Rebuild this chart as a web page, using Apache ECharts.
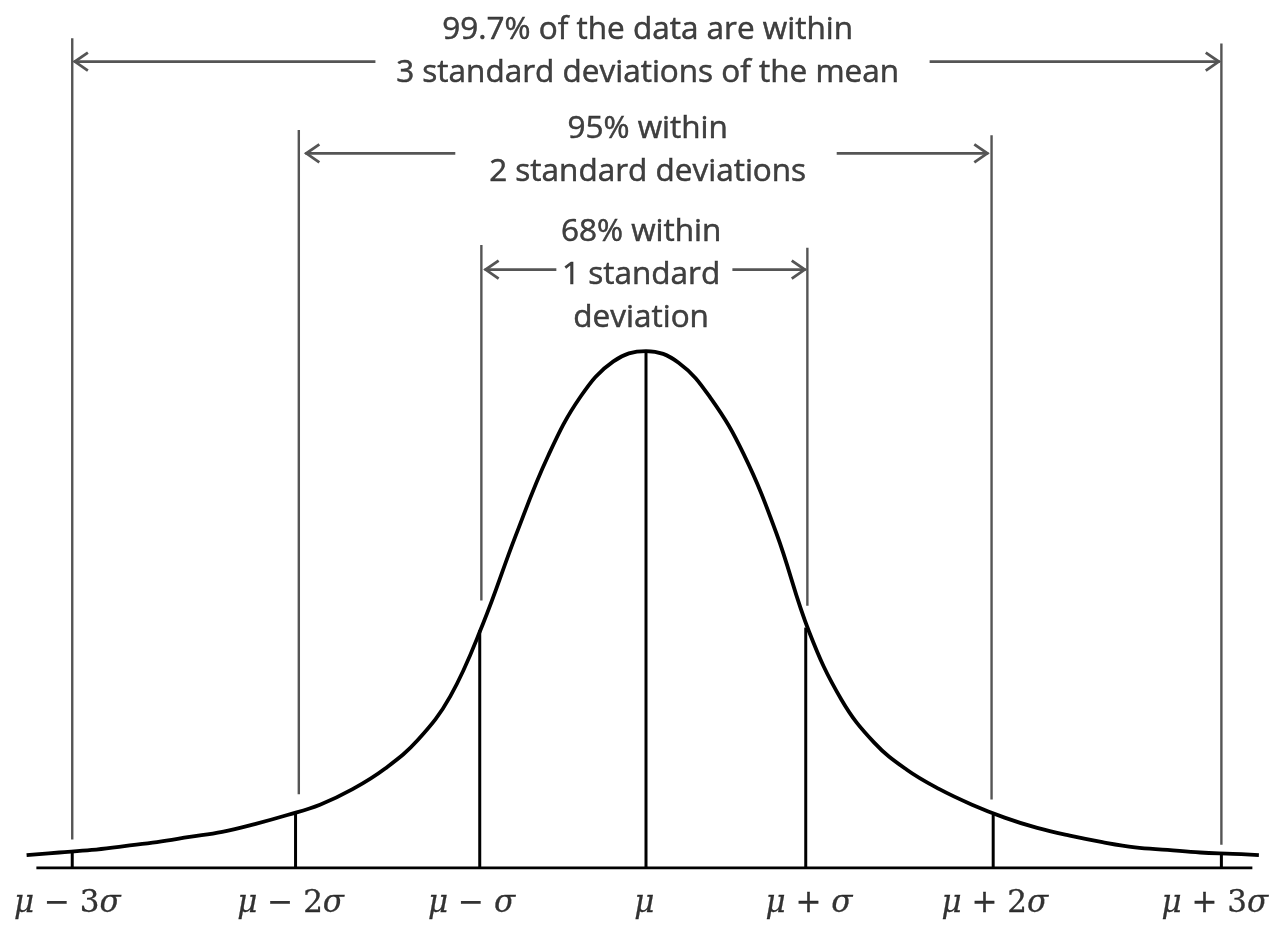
<!DOCTYPE html>
<html>
<head>
<meta charset="utf-8">
<script src="https://cdn.jsdelivr.net/npm/echarts@6/dist/echarts.min.js"></script>
<style>html,body{margin:0;padding:0;background:#fff}#c{width:1280px;height:927px}</style>
</head>
<body>
<div id="c"></div>
<script>
// Curve (x in sigma units, y in density units)
const curveX = [-3.8,-3.6,-3.4,-3.2,-3.0,-2.8,-2.6,-2.4,-2.2,-2.0,-1.8,-1.6,-1.4,-1.2,-1.0,-0.8,-0.6,-0.4,-0.2,0,
  0.2,0.4,0.6,0.8,1.0,1.2,1.4,1.6,1.8,2.0,2.2,2.4,2.6,2.8,3.0,3.2,3.4,3.6,3.76];
const curveY = [0.010,0.012,0.014,0.017,0.020,0.024,0.028,0.034,0.041,0.049,0.061,0.077,0.099,0.133,0.189,0.257,0.319,0.365,0.392,0.400,
  0.391,0.363,0.320,0.259,0.183,0.130,0.097,0.076,0.061,0.049,0.039,0.031,0.025,0.020,0.016,0.014,0.012,0.011,0.010];

// Ticks
const tickPos = [-3.52,-2.15,-1.02,0,0.98,2.13,3.53];
const tickHeight = [0.012,0.043,0.184,0.400,0.186,0.041,0.011];
const tickLabelPos = [-3.55,-2.18,-1.07,-0.01,1.00,2.14,3.49];
const tickLabels = ['{i|μ} − 3{i|σ}','{i|μ} − 2{i|σ}','{i|μ} − {i|σ}','{i|μ}','{i|μ} + {i|σ}','{i|μ} + 2{i|σ}','{i|μ} + 3{i|σ}'];
const baselineX = [-3.74, 3.72];

// Bands: 3 sigma, 2 sigma, 1 sigma
const bandLeftX = [-3.52,-2.13,-1.01];
const bandRightX = [3.53,2.12,0.99];
const guideLeftTop = [0.642,0.571,0.482];
const guideLeftBottom = [0.022,0.057,0.207];
const guideRightTop = [0.638,0.567,0.480];
const guideRightBottom = [0.018,0.053,0.203];
const arrowY = [0.624,0.553,0.463];
const arrowLeftInner = [-1.66,-1.17,-0.55];
const arrowRightInner = [1.74,1.17,0.53];
const arrowLeftTip = [-3.51,-2.09,-0.99];
const arrowRightTip = [3.52,2.10,0.98];
const bandText = [
  '99.7% of the data are within\n3 standard deviations of the mean',
  '95% within\n2 standard deviations',
  '68% within\n1 standard\ndeviation'
];
const bandTextX = [0.01,0.01,-0.03];
const bandTextY = [0.632,0.555,0.459];

const curve = curveX.map((x,i)=>[x,curveY[i]]);
const gray = '#555555';

const chart = echarts.init(document.getElementById('c'));
chart.setOption({
  animation:false,
  grid:{left:26.6, right:14.6, top:15, bottom:59},
  xAxis:{type:'value', min:-3.8, max:3.8, show:false},
  yAxis:{type:'value', min:0, max:0.66, show:false},
  series:[
    {type:'line', data:curve, smooth:0.4, showSymbol:false, symbol:'none',
     lineStyle:{color:'#000', width:3.8}, z:3},
    {type:'line', data:baselineX.map(x=>[x,0]), showSymbol:false, symbol:'none',
     lineStyle:{color:'#000', width:3.2}, z:3},
    {type:'custom', data:tickPos.map((x,i)=>[x,tickHeight[i]]), z:3,
     renderItem:(params, api)=>{
       const a = api.coord([api.value(0),0]);
       const b = api.coord([api.value(0),api.value(1)]);
       return {type:'line', shape:{x1:a[0],y1:a[1],x2:b[0],y2:b[1]}, style:{stroke:'#000', lineWidth:3}};
     }},
    {type:'custom', z:2,
     data:bandLeftX.map((x,i)=>[x,guideLeftTop[i],guideLeftBottom[i],bandRightX[i],guideRightTop[i],guideRightBottom[i]]),
     renderItem:(params, api)=>{
       const l1 = api.coord([api.value(0),api.value(1)]);
       const l2 = api.coord([api.value(0),api.value(2)]);
       const r1 = api.coord([api.value(3),api.value(4)]);
       const r2 = api.coord([api.value(3),api.value(5)]);
       const st = {stroke:gray, lineWidth:2.4};
       return {type:'group', children:[
         {type:'line', shape:{x1:l1[0],y1:l1[1],x2:l2[0],y2:l2[1]}, style:st},
         {type:'line', shape:{x1:r1[0],y1:r1[1],x2:r2[0],y2:r2[1]}, style:st}
       ]};
     }},
    {type:'custom', z:2,
     data:arrowY.map((y,i)=>[y,arrowLeftTip[i],arrowLeftInner[i],arrowRightInner[i],arrowRightTip[i]]),
     renderItem:(params, api)=>{
       const y = api.value(0);
       const lt = api.coord([api.value(1),y]);
       const li = api.coord([api.value(2),y]);
       const ri = api.coord([api.value(3),y]);
       const rt = api.coord([api.value(4),y]);
       const st = {stroke:gray, lineWidth:2.8, fill:null, lineJoin:'miter'};
       const h = 9, w = 14;
       return {type:'group', children:[
         {type:'line', shape:{x1:lt[0],y1:lt[1],x2:li[0],y2:li[1]}, style:st},
         {type:'line', shape:{x1:ri[0],y1:ri[1],x2:rt[0],y2:rt[1]}, style:st},
         {type:'polyline', shape:{points:[[lt[0]+w,lt[1]-h],[lt[0]+1,lt[1]],[lt[0]+w,lt[1]+h]]}, style:st},
         {type:'polyline', shape:{points:[[rt[0]-w,rt[1]-h],[rt[0]-1,rt[1]],[rt[0]-w,rt[1]+h]]}, style:st}
       ]};
     }},
    {type:'scatter', symbolSize:0, z:5, clip:false,
     data:bandText.map((t,i)=>({value:[bandTextX[i],bandTextY[i]], name:t})),
     label:{show:true, position:'inside', formatter:p=>p.name, color:'#111',
       textBorderColor:'#111', textBorderWidth:0.5,
       fontFamily:'"Open Sans", sans-serif', fontSize:31.5, lineHeight:43, align:'center', verticalAlign:'middle'}},
    {type:'scatter', symbolSize:0, z:5, clip:false,
     data:tickLabelPos.map((x,i)=>({value:[x,0], name:tickLabels[i]})),
     label:{show:true, position:'inside', offset:[0,36], formatter:p=>p.name, color:'#000',
       textBorderColor:'#000', textBorderWidth:0.3,
       fontFamily:'"DejaVu Serif", serif', fontSize:31, align:'center', verticalAlign:'middle',
       rich:{i:{fontFamily:'"DejaVu Serif", serif', fontStyle:'italic', fontSize:31, color:'#000', textBorderColor:'#000', textBorderWidth:0.3}}}}
  ]
});
</script>
</body>
</html>
